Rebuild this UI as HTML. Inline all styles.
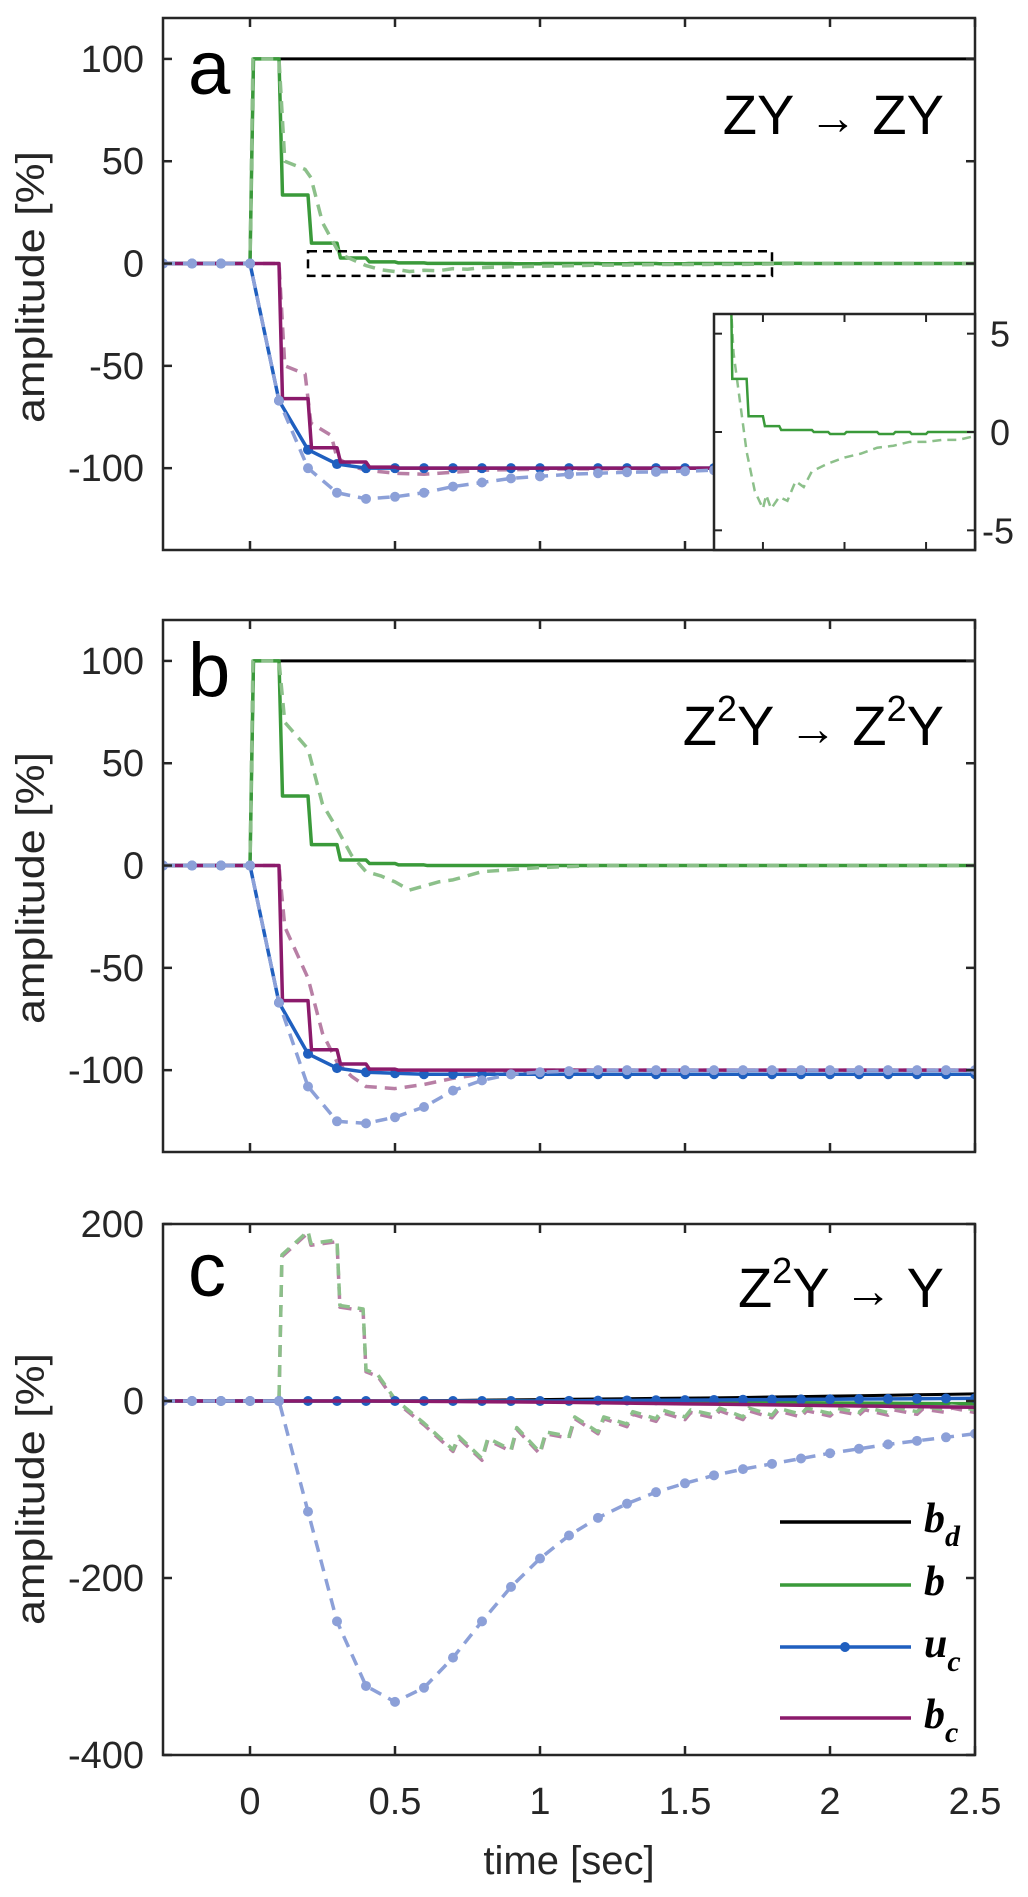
<!DOCTYPE html>
<html><head><meta charset="utf-8"><title>Amplitude response chart</title>
<style>
html,body{margin:0;padding:0;background:#fff;}
svg{display:block;font-family:"Liberation Sans",Arial,sans-serif;}
</style></head>
<body>
<svg id="fig" width="1028" height="1897" viewBox="0 0 1028 1897" xmlns="http://www.w3.org/2000/svg"></svg>
<script>
// ---------- data ----------
const gridT = [-0.3,-0.2,-0.1,0,0.1,0.2,0.3,0.4,0.5,0.6,0.7,0.8,0.9,1.0,1.1,1.2,1.3,1.4,1.5,1.6,1.7,1.8,1.9,2.0,2.1,2.2,2.3,2.4,2.5];
const xTicks = [0,0.5,1,1.5,2,2.5];
const xTickLabels = ["0","0.5","1","1.5","2","2.5"];
const yTicksAB = [100,50,0,-50,-100];
const yTickLabelsAB = ["100","50","0","-50","-100"];
const yTicksC = [200,0,-200,-400];
const yTickLabelsC = ["200","0","-200","-400"];
const insetTicksY = [5,0,-5];
const insetTickLabels = ["5","0","-5"];
const insetTicksX = [0.5,1.0,1.5];

// Panel a
const aBd = [0,0,0,100,100,100,100,100,100,100,100,100,100,100,100,100,100,100,100,100,100,100,100,100,100,100,100,100,100];
const aB  = [0,0,0,100,33.5,10,2.7,0.8,0.3,0.1,0.1,0,-0.1,0,0,-0.1,0,-0.1,0,0,0,0.1,0,0,0,0,0,0,0];
const aUc = [0,0,0,0,-67,-91,-98,-100,-100,-100,-100,-100,-100,-100,-100,-100,-100,-100,-100,-100,-100,-100,-100,-100,-100,-100,-100,-100,-100];
const aBc = [0,0,0,0,-66,-90,-97,-99.5,-100,-100,-100,-100,-100,-100,-100,-100,-100,-100,-100,-100,-100,-100,-100,-100,-100,-100,-100,-100,-100];
const aUcOpen = [0,0,0,0,-67,-100,-112,-115,-114,-112,-109,-107,-105,-104,-103,-102.5,-102,-101.8,-101.5,-101,-100.8,-100.6,-100.5,-100.4,-100.3,-100.2,-100.1,-100,-100];
const aBOpenT = [-0.3,0,0.01,0.1,0.12,0.19,0.21,0.25,0.3,0.32,0.4,0.45,0.5,0.52,0.55,0.6,0.65,0.7,0.75,0.8,0.9,1.0,1.1,1.2,1.3,1.4,1.5,1.6,1.7,1.8,2.0,2.5];
const aBOpenV = [0,0,100,100,50,46,42,20,7,4,-1,-3,-3.9,-3.2,-3.9,-3.3,-3.5,-2.5,-2.8,-2,-1.6,-1.3,-1.1,-0.8,-0.7,-0.5,-0.5,-0.4,-0.4,-0.2,0,0];
const aBcOpenT = [-0.3,0.1,0.12,0.19,0.21,0.28,0.3,0.35,0.4,0.5,0.6,0.7,0.8,1.0,1.5,2.5];
const aBcOpenV = [0,0,-50,-54,-78,-84,-95,-99,-101,-102.5,-103,-102,-101,-100.5,-100,-100];

// Panel b
const bBd = [0,0,0,100,100,100,100,100,100,100,100,100,100,100,100,100,100,100,100,100,100,100,100,100,100,100,100,100,100];
const bB  = [0,0,0,100,34,10.2,2.7,1,0.3,0,0,0,0,0,0,0,0,0,0,0,0,0,0,0,0,0,0,0,0];
const bUc = [0,0,0,0,-67,-92,-99,-101,-101.5,-102,-102,-102,-102,-102,-102,-102,-102,-102,-102,-102,-102,-102,-102,-102,-102,-102,-102,-102,-102];
const bBc = [0,0,0,0,-66,-90,-97,-99.5,-100,-100,-100,-100,-100,-100,-100,-100,-100,-100,-100,-100,-100,-100,-100,-100,-100,-100,-100,-100,-100];
const bUcOpen = [0,0,0,0,-67,-108,-125,-126,-123,-118,-110,-105,-102,-101,-100.5,-100,-100,-100,-100,-100,-100,-100,-100,-100,-100,-100,-100,-100,-100];
const bBOpenT = [-0.3,0,0.01,0.1,0.12,0.2,0.25,0.3,0.35,0.4,0.45,0.5,0.55,0.6,0.65,0.7,0.75,0.8,0.9,1.0,1.2,2.5];
const bBOpenV = [0,0,100,100,70,57,30,18,5,-3,-5,-8,-12,-10,-8,-7,-5,-3,-2,-1,0,0];
const bBcOpenT = [-0.3,0.1,0.12,0.2,0.25,0.3,0.35,0.4,0.5,0.6,0.7,0.8,0.9,1.0,2.5];
const bBcOpenV = [0,0,-30,-55,-82,-96,-103,-108,-109,-107,-104,-102,-101,-100,-100];

// Panel c
const cBd = [0,0,0,0,0,0,0,0,0,0.3,0.6,1,1.3,1.6,2,2.3,2.6,3,3.3,3.6,4,4.5,5,5.5,6,6.5,7,7.5,8];
const cB  = [0,0,0,0,0,0,0,0,0,0,0,0,0,-0.2,-0.4,-0.6,-0.8,-1,-1.2,-1.4,-1.6,-1.8,-2,-2.2,-2.4,-2.6,-2.8,-3,-3];
const cUc = [0,0,0,0,0,0,0,0,0,0,0,0,0,0,0.2,0.4,0.6,0.8,1,1.2,1.4,1.6,1.8,2,2.2,2.4,2.6,2.8,3];
const cBc = [0,0,0,0,0,0,0,0,-0.2,-0.4,-0.6,-0.8,-1,-1.3,-1.6,-2,-2.4,-2.8,-3.2,-3.6,-4,-4.4,-4.8,-5.2,-5.6,-6,-6.4,-6.8,-7];
const cUcOpen = [0,0,0,0,0,-125,-249,-322,-340,-324,-290,-249,-210,-178,-152,-132,-116,-103,-93,-84,-77,-71,-65,-59,-54,-49,-45,-41,-37];
const cBOpenT = [-0.3,0.1,0.11,0.2,0.21,0.3,0.31,0.39,0.4,0.44,0.5,0.6,0.7,0.72,0.8,0.82,0.9,0.92,1.0,1.02,1.1,1.12,1.2,1.22,1.3,1.32,1.4,1.42,1.5,1.52,1.6,1.62,1.7,1.72,1.8,1.82,1.9,1.92,2.0,2.02,2.1,2.12,2.2,2.22,2.3,2.32,2.4,2.42,2.5];
const cBOpenV = [0,0,165,192,178,182,108,104,35,30,2,-25,-55,-40,-65,-42,-55,-30,-58,-35,-40,-18,-35,-18,-26,-12,-20,-10,-18,-10,-16,-8,-18,-8,-16,-8,-15,-8,-14,-8,-13,-7,-13,-7,-12,-6,-10,-5,-10];
const cBcOpenV = [0,0,163,190,176,180,106,102,33,28,0,-27,-57,-42,-67,-44,-57,-32,-60,-37,-42,-20,-37,-20,-29,-15,-23,-13,-21,-13,-19,-11,-21,-11,-19,-11,-18,-11,-17,-11,-16,-10,-16,-10,-15,-9,-13,-8,-13];

// ---------- drawing ----------
const NS = "http://www.w3.org/2000/svg";
const svg = document.getElementById("fig");
const AX = "#262626";
const C = {bd:"#000000", b:"#3a9a3a", bL:"#8cc08a", uc:"#1f5fbf", ucL:"#8ca0d8", bc:"#8b1a6b", bcL:"#b87fa5"};
const LW = 3.5;
const DASH = "12,8";

function el(tag, attrs, parent){
  const e = document.createElementNS(NS, tag);
  for (const k in attrs) e.setAttribute(k, attrs[k]);
  (parent || svg).appendChild(e);
  return e;
}
function txt(s, attrs, parent){ const t = el("text", attrs, parent); t.textContent = s; return t; }

function makeScale(d0, d1, r0, r1){ return v => r0 + (v - d0) / (d1 - d0) * (r1 - r0); }

function stepPath(ts, vs, X, Y){
  let d = "M" + X(ts[0]) + "," + Y(vs[0]);
  for (let k = 1; k < ts.length; k++){
    d += " L" + X(ts[k]) + "," + Y(vs[k-1]);
    d += " L" + X(ts[k] + 0.012) + "," + Y(vs[k]);
  }
  d += " L" + X(ts[ts.length-1] + 0.1) + "," + Y(vs[vs.length-1]);
  return d;
}
function linePath(ts, vs, X, Y){
  return ts.map((t,i) => (i ? "L" : "M") + X(t) + "," + Y(vs[i])).join(" ");
}

let clipId = 0;
function panel(cfg){
  const g = el("g", {});
  
  
  const X = makeScale(-0.3, 2.5, 163, 975);
  const Y = makeScale(cfg.ymin, cfg.ymax, cfg.yb, cfg.yt);
  const id = "clip" + (clipId++);
  const cp = el("clipPath", {id:id}, g);
  el("rect", {x:163, y:cfg.yt, width:812, height:cfg.yb-cfg.yt}, cp);
  const plot = el("g", {"clip-path":"url(#"+id+")"}, g);
  
  

  function series(d, stroke, w, dash, name){
    const p = el("path", {d:d, fill:"none", stroke:stroke, "stroke-width":w, "stroke-linejoin":"round"}, plot);
    if (dash) p.setAttribute("stroke-dasharray", dash);
    
    
  }
  function dots(vs, fill, name){
    const gg = el("g", {}, plot);
    
    
    gridT.forEach((t,i) => {
      const c = el("circle", {cx:X(t), cy:Y(vs[i]), r:5, fill:fill}, gg);
      
      
    });
  }
  const st = cfg.step ? stepPath : linePath;
  series(st(gridT, cfg.bd, X, Y), C.bd, 3, null, "bd-line");
  series(linePath(cfg.bcOpenT, cfg.bcOpenV, X, Y), C.bcL, LW, DASH, "bc-open-loop-line");
  series(st(gridT, cfg.b, X, Y), C.b, LW, null, "b-line");
  series(linePath(cfg.bOpenT, cfg.bOpenV, X, Y), C.bL, LW, DASH, "b-open-loop-line");
  series(linePath(gridT, cfg.uc, X, Y), C.uc, LW, null, "uc-line");
  dots(cfg.uc, C.uc, "uc-markers");
  series(st(gridT, cfg.bc, X, Y), C.bc, LW, null, "bc-line");
  series(linePath(gridT, cfg.ucOpen, X, Y), C.ucL, LW, DASH, "uc-open-loop-line");
  dots(cfg.ucOpen, C.ucL, "uc-open-loop-markers");

  const box = el("rect", {x:163, y:cfg.yt, width:812, height:cfg.yb-cfg.yt, fill:"none", stroke:AX, "stroke-width":2.5}, g);
  
  
  xTicks.forEach((t,i) => {
    const x = X(t);
    el("line", {x1:x, x2:x, y1:cfg.yb, y2:cfg.yb-9, stroke:AX, "stroke-width":2.5}, g);
    el("line", {x1:x, x2:x, y1:cfg.yt, y2:cfg.yt+9, stroke:AX, "stroke-width":2.5}, g);
    if (cfg.xlabels){
      const tl = txt(xTickLabels[i], {x:x, y:1814, "text-anchor":"middle", "font-size":38, fill:"#262626"}, g);
      
      
    }
  });
  cfg.yticks.forEach((v,i) => {
    const y = Y(v);
    el("line", {x1:163, x2:172, y1:y, y2:y, stroke:AX, "stroke-width":2.5}, g);
    el("line", {x1:975, x2:966, y1:y, y2:y, stroke:AX, "stroke-width":2.5}, g);
    const tl = txt(cfg.ylabels[i], {x:144, y:y+13, "text-anchor":"end", "font-size":38, fill:"#262626"}, g);
    
    
  });
  const yl = txt("amplitude [%]", {x:0, y:0, "text-anchor":"middle", "font-size":40, fill:"#262626", textLength:272, lengthAdjust:"spacingAndGlyphs", transform:"translate(44,"+cfg.ylc+") rotate(-90)"}, g);
  
  
  const lt = txt(cfg.letter, {x:188, y:cfg.letterY, "font-size":76, fill:"#000"}, g);
  
  
  const an = el("text", {x:944, y:cfg.annY, "text-anchor":"end", "font-size":56, fill:"#000"}, g);
  an.innerHTML = cfg.ann;
  
  
  return {X, Y, g};
}

const pa = panel({name:"panel-a", yt:18, yb:550, ymin:-140, ymax:120, step:true,
  bd:aBd, b:aB, uc:aUc, bc:aBc, ucOpen:aUcOpen, bOpenT:aBOpenT, bOpenV:aBOpenV, bcOpenT:aBcOpenT, bcOpenV:aBcOpenV,
  yticks:yTicksAB, ylabels:yTickLabelsAB, ylc:287, letter:"a", letterY:94, annY:134,
  ann:'ZY <tspan font-size="48">→</tspan> ZY'});
const pb = panel({name:"panel-b", yt:620, yb:1152, ymin:-140, ymax:120, step:true,
  bd:bBd, b:bB, uc:bUc, bc:bBc, ucOpen:bUcOpen, bOpenT:bBOpenT, bOpenV:bBOpenV, bcOpenT:bBcOpenT, bcOpenV:bBcOpenV,
  yticks:yTicksAB, ylabels:yTickLabelsAB, ylc:888, letter:"b", letterY:696, annY:745,
  ann:'Z<tspan font-size="36" dy="-24">2</tspan><tspan dy="24">Y </tspan><tspan font-size="48">→</tspan> Z<tspan font-size="36" dy="-24">2</tspan><tspan dy="24">Y</tspan>'});
const pc = panel({name:"panel-c", yt:1224, yb:1755, ymin:-400, ymax:200, step:false, xlabels:true,
  bd:cBd, b:cB, uc:cUc, bc:cBc, ucOpen:cUcOpen, bOpenT:cBOpenT, bOpenV:cBOpenV, bcOpenT:cBOpenT, bcOpenV:cBcOpenV,
  yticks:yTicksC, ylabels:yTickLabelsC, ylc:1489, letter:"c", letterY:1296, annY:1307,
  ann:'Z<tspan font-size="36" dy="-24">2</tspan><tspan dy="24">Y </tspan><tspan font-size="48">→</tspan> Y'});

const xt = txt("time [sec]", {x:569, y:1874, "text-anchor":"middle", "font-size":40, fill:"#262626"});



const zb = el("rect", {x:pa.X(0.2), y:pa.Y(6), width:pa.X(1.8)-pa.X(0.2), height:pa.Y(-6)-pa.Y(6), fill:"none", stroke:"#000", "stroke-width":2.5, "stroke-dasharray":"9,6"});



(function(){
  const g = el("g", {});
  
  
  const X = makeScale(0.2, 1.8, 714, 975);
  const Y = makeScale(-6, 6, 550, 314);
  el("rect", {x:714, y:314, width:261, height:236, fill:"#fff"}, g);
  const cp = el("clipPath", {id:"insetclip"}, g);
  el("rect", {x:714, y:314, width:261, height:236}, cp);
  const plot = el("g", {"clip-path":"url(#insetclip)"}, g);
  const p1 = el("path", {d:linePath(aBOpenT, aBOpenV, X, Y), fill:"none", stroke:C.bL, "stroke-width":2.5, "stroke-dasharray":"9,6"}, plot);
  
  
  const p2 = el("path", {d:stepPath(gridT, aB, X, Y), fill:"none", stroke:C.b, "stroke-width":2.5}, plot);
  
  
  el("rect", {x:714, y:314, width:261, height:236, fill:"none", stroke:AX, "stroke-width":2.5}, g);
  insetTicksX.forEach(t => {
    el("line", {x1:X(t), x2:X(t), y1:550, y2:542, stroke:AX, "stroke-width":2}, g);
    el("line", {x1:X(t), x2:X(t), y1:314, y2:322, stroke:AX, "stroke-width":2}, g);
  });
  insetTicksY.forEach((v,i) => {
    el("line", {x1:714, x2:722, y1:Y(v), y2:Y(v), stroke:AX, "stroke-width":2}, g);
    el("line", {x1:975, x2:967, y1:Y(v), y2:Y(v), stroke:AX, "stroke-width":2}, g);
    const tl = txt(insetTickLabels[i], {x:v<0?982:990, y:Y(v)+13, "font-size":36, fill:"#262626"}, g);
    
    
  });
})();

(function(){
  const g = el("g", {});
  
  
  const items = [["b","d",C.bd,1522,false],["b","",C.b,1585,false],["u","c",C.uc,1647,true],["b","c",C.bc,1718,false]];
  items.forEach(it => {
    const e = el("g", {}, g);
    
    
    el("line", {x1:780, x2:911, y1:it[3], y2:it[3], stroke:it[2], "stroke-width":LW}, e);
    if (it[4]) el("circle", {cx:845, cy:it[3], r:5, fill:it[2]}, e);
    const t = el("text", {x:924, y:it[3]+10, "font-family":"'Liberation Serif',serif", "font-weight":"bold", "font-style":"italic", "font-size":42, fill:"#000"}, e);
    t.innerHTML = it[0] + (it[1] ? '<tspan font-size="30" dy="14">' + it[1] + '</tspan>' : '');
  });
})();
</script>
</body></html>
